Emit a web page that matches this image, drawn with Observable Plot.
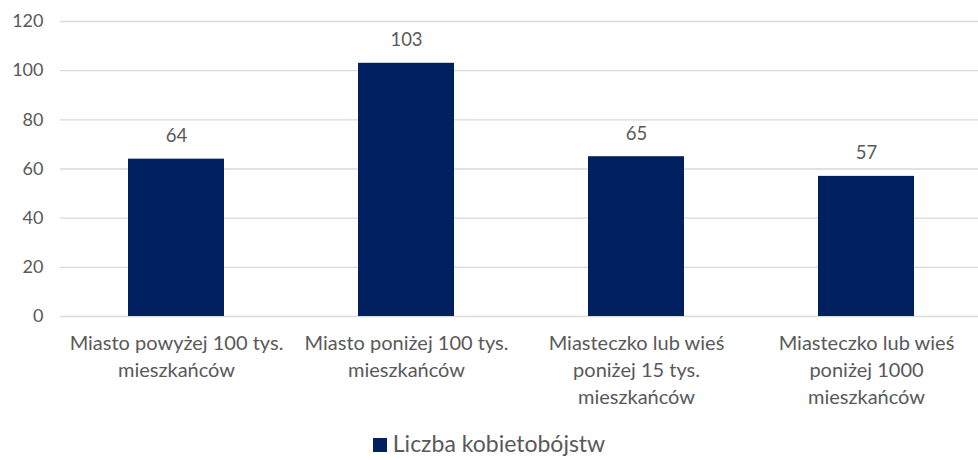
<!DOCTYPE html>
<html>
<head>
<meta charset="utf-8">
<script src="https://cdn.jsdelivr.net/npm/d3@7"></script>
<script src="https://cdn.jsdelivr.net/npm/@observablehq/plot@0.6"></script>
<style>
  html, body { margin: 0; padding: 0; background: #fff; overflow: hidden; }
  #chart { width: 978px; }
  .legend { font-family: Lato, "Open Sans", sans-serif; font-size: 23px; color: #595959; text-align: center; height: 32px; line-height: 32px; padding-top: 2px; }
  .legend .sw { display: inline-block; width: 14px; height: 14px; background: #012060; margin-right: 6px; vertical-align: 0px; }
</style>
</head>
<body>
<div id="chart"></div>
<script>
const categories = [
  "Miasto powyżej 100 tys. mieszkańców",
  "Miasto poniżej 100 tys. mieszkańców",
  "Miasteczko lub wieś poniżej 15 tys. mieszkańców",
  "Miasteczko lub wieś poniżej 1000 mieszkańców"
];
const tickLabels = [
  "Miasto powyżej 100 tys.\nmieszkańców",
  "Miasto poniżej 100 tys.\nmieszkańców",
  "Miasteczko lub wieś\nponiżej 15 tys.\nmieszkańców",
  "Miasteczko lub wieś\nponiżej 1000\nmieszkańców"
];
const values = [64, 103, 65, 57];
const seriesName = "Liczba kobietobójstw";
const yTicks = [0, 20, 40, 60, 80, 100, 120];

const data = categories.map((c, i) => ({category: c, value: values[i]}));
const labelOf = new Map(categories.map((c, i) => [c, tickLabels[i]]));

const plot = Plot.plot({
  width: 978,
  height: 425,
  marginLeft: 60,
  marginRight: 0,
  marginTop: 21,
  marginBottom: 109,
  style: {fontFamily: "Lato, 'Open Sans', sans-serif", color: "#595959", background: "#fff"},
  x: {domain: categories, range: [60, 981], paddingInner: 0.583, paddingOuter: 0.29, label: null},
  y: {domain: [0, 120], label: null},
  marks: [
    Plot.ruleY(yTicks, {stroke: "#d9d9d9", strokeWidth: 1.3}),
    Plot.barY(data, {x: "category", y: "value", fill: "#012060"}),
    Plot.text(data, {x: "category", y: "value", text: d => String(d.value), dy: -23, fill: "#595959", fontSize: 18.5}),
    Plot.axisY({ticks: yTicks, tickSize: 0, tickPadding: 17, fontSize: 18, fill: "#595959", label: null}),
    Plot.axisX({tickSize: 0, tickPadding: 15, fontSize: 20, fill: "#595959", lineHeight: 1.33, tickFormat: d => labelOf.get(d), label: null})
  ]
});
document.getElementById("chart").appendChild(plot);
const leg = document.createElement("div");
leg.className = "legend";
leg.innerHTML = '<span class="sw"></span>' + seriesName;
document.getElementById("chart").appendChild(leg);
</script>
</body>
</html>
